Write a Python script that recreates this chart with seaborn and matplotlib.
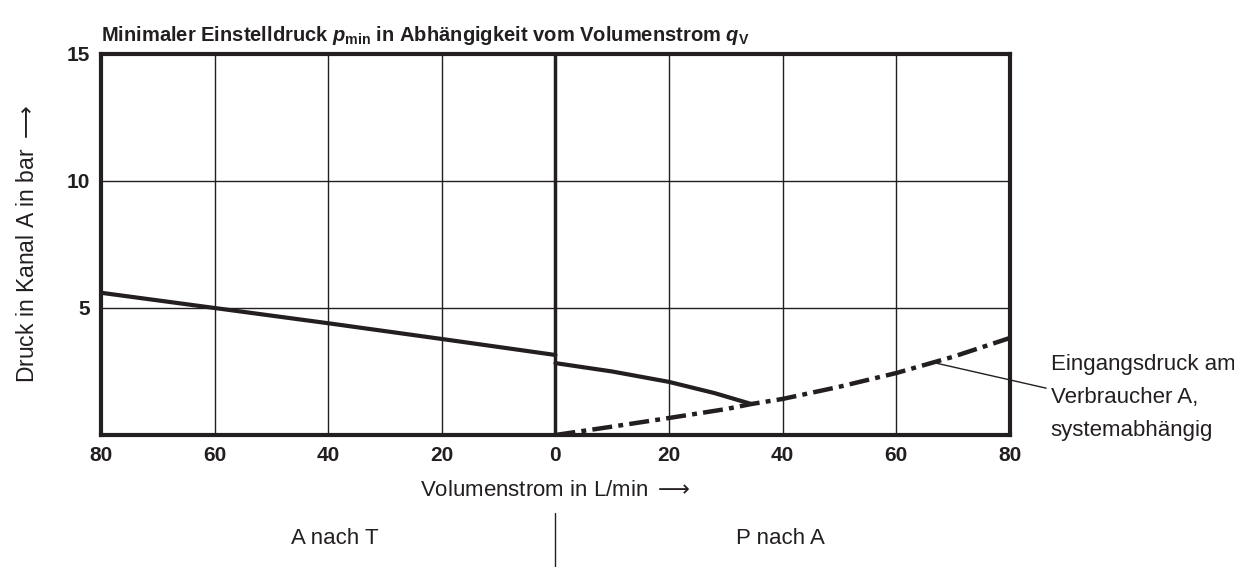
"""
Minimaler Einstelldruck p_min in Abhaengigkeit vom Volumenstrom q_V
"""

import numpy as np
import pandas as pd
import seaborn as sns
import matplotlib.pyplot as plt

# A nach T (plotted to the left of 0, flow as negative value)
flow_a_to_t = [-80, -60, -40, -20, 0]
p_a_to_t = [5.6, 5.0, 4.4, 3.78, 3.15]

# P nach A, minimum setting pressure
flow_p_to_a = [0, 10, 20, 28, 34.5]
p_p_to_a = [2.83, 2.5, 2.09, 1.65, 1.22]

# Eingangsdruck am Verbraucher A (systemabhaengig)
flow_inlet = [0, 10, 20, 30, 34.5, 40, 50, 60, 70, 80]
p_inlet = [0.0, 0.33, 0.67, 1.02, 1.22, 1.42, 1.9, 2.44, 3.08, 3.82]

x_ticks = [-80, -60, -40, -20, 0, 20, 40, 60, 80]
x_tick_labels = ["80", "60", "40", "20", "0", "20", "40", "60", "80"]
y_ticks = [5, 10, 15]
y_tick_labels = ["5", "10", "15"]

INK = "#231f20"
ARROW = r"$\mathsf{\longrightarrow}$"

sns.set_theme(style="white")
plt.rcParams["font.family"] = ["Liberation Sans", "DejaVu Sans"]
plt.rcParams["mathtext.fontset"] = "custom"
plt.rcParams["mathtext.it"] = "Liberation Sans:italic:bold"
plt.rcParams["mathtext.rm"] = "Liberation Sans:bold"
plt.rcParams["mathtext.sf"] = "DejaVu Sans"
plt.rcParams["text.color"] = INK
plt.rcParams["axes.labelcolor"] = INK

fig = plt.figure(figsize=(12.34, 5.67), dpi=100)
ax = fig.add_axes([0.0818, 0.2328, 0.7366, 0.672])

df_left = pd.DataFrame({"q": flow_a_to_t, "p": p_a_to_t})
df_right = pd.DataFrame({"q": flow_p_to_a, "p": p_p_to_a})
df_inlet = pd.DataFrame({"q": flow_inlet, "p": p_inlet})

sns.lineplot(data=df_left, x="q", y="p", color=INK, lw=3, ax=ax)
sns.lineplot(data=df_right, x="q", y="p", color=INK, lw=3, ax=ax)
sns.lineplot(data=df_inlet, x="q", y="p", color=INK, lw=3.2, ax=ax)
ax.lines[-1].set_dashes([4.5, 1.4, 1.1, 1.4])

ax.set_xlim(-80, 80)
ax.set_ylim(0, 15)
ax.set_xticks(x_ticks)
ax.set_xticklabels(x_tick_labels)
ax.set_yticks(y_ticks)
ax.set_yticklabels(y_tick_labels)
ax.tick_params(length=0, labelsize=15, pad=8, colors=INK)
for lbl in ax.get_xticklabels() + ax.get_yticklabels():
    lbl.set_fontweight("bold")

ax.grid(True, color=INK, lw=1)
ax.axvline(0, color=INK, lw=2.5)
for sp in ax.spines.values():
    sp.set_visible(True)
    sp.set_color(INK)
    sp.set_linewidth(3)

ax.set_xlabel("Volumenstrom in L/min " + ARROW, fontsize=16, labelpad=11)
ax.set_ylabel("Druck in Kanal A in bar " + ARROW, fontsize=16.5, labelpad=20)
ax.set_title(r"Minimaler Einstelldruck $p_{\mathrm{min}}$ in Abhängigkeit vom Volumenstrom $q_{\mathrm{V}}$",
             loc="left", fontsize=14.5, fontweight="bold", pad=9)

# annotation for the inlet pressure curve
ax.annotate("Eingangsdruck am\nVerbraucher A,\nsystemabhängig",
            xy=(67, 2.83), xytext=(87.2, 1.46), textcoords="data",
            fontsize=16, va="center", ha="left", linespacing=1.75,
            annotation_clip=False,
            arrowprops=dict(arrowstyle="-", color=INK, lw=1,
                            shrinkA=1, shrinkB=0,
                            relpos=(0, 0.6)))

# direction labels below the axis
fig.text(335 / 1234, 1 - 538 / 567, "A nach T", fontsize=16, ha="center", va="center")
fig.text(780 / 1234, 1 - 538 / 567, "P nach A", fontsize=16, ha="center", va="center")
fig.add_artist(plt.Line2D([555 / 1234, 555 / 1234], [0, 1 - 513 / 567],
                          color=INK, lw=1))

fig.savefig("out.png", dpi=100)
